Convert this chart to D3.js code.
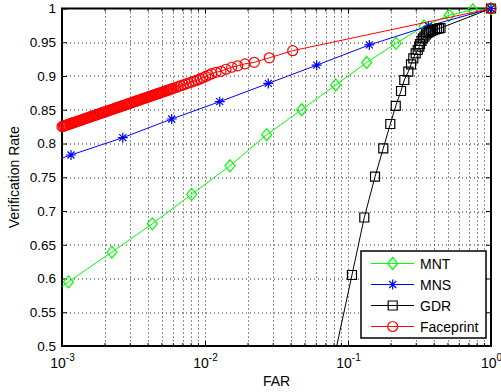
<!DOCTYPE html>
<html>
<head>
<meta charset="utf-8">
<script src="https://cdn.jsdelivr.net/npm/d3@7"></script>
<style>
  body { margin: 0; background: #fff; }
  svg text { font-family: "Liberation Sans", Arial, Helvetica, sans-serif; fill: #000; }
</style>
</head>
<body>
<div id="chart"></div>
<script>
// ROC style curves, FAR on a log axis against verification rate

// MNT (green diamonds) - first value sits left of the axis so the line runs in from the edge
var farMNT  = [0.00055, 0.00111, 0.00223, 0.00428, 0.00807, 0.01496, 0.0270, 0.0474, 0.0820, 0.135, 0.217, 0.340, 0.510, 0.745, 1];
var rateMNT = [0.551, 0.595, 0.639, 0.681, 0.7247, 0.767, 0.813, 0.850, 0.8867, 0.920, 0.9484, 0.974, 0.990, 0.998, 1];

// MNS (blue stars)
var farMNS  = [0.00051, 0.001156, 0.00266, 0.00585, 0.01268, 0.0277, 0.0604, 0.141, 0.365, 1];
var rateMNS = [0.757, 0.783, 0.8086, 0.8363, 0.862, 0.889, 0.916, 0.946, 0.974, 1];

// GDR (black squares) - first value is below 0.5, off the chart
var farGDR  = [0.0778, 0.1066, 0.1300, 0.1545, 0.1765, 0.1976, 0.2157, 0.2348, 0.2476, 0.2641, 0.2758, 0.2862,
	0.2974, 0.3072, 0.3152, 0.3188, 0.3266, 0.3345, 0.3428, 0.3511, 0.3597, 0.3685, 0.3806, 0.3930, 0.4059,
	0.4193, 0.4329, 0.4435, 1];
var rateGDR = [0.4704, 0.6052, 0.6904, 0.7508, 0.7929, 0.8289, 0.8556, 0.8778, 0.8941, 0.9064, 0.9173, 0.9262,
	0.9336, 0.9385, 0.9434, 0.9474, 0.9519, 0.9556, 0.9585, 0.9615, 0.9637, 0.9652, 0.9667, 0.9681, 0.9689,
	0.9696, 0.9704, 0.9711, 1];

// Faceprint (red circles) - very dense at low FAR
var farFP = [
	1.00e-3, 1.02e-3, 1.04e-3, 1.06e-3, 1.08e-3, 1.10e-3, 1.12e-3, 1.14e-3, 1.16e-3, 1.18e-3, 1.20e-3, 1.22e-3, 1.24e-3,
	1.27e-3, 1.30e-3, 1.33e-3, 1.36e-3, 1.39e-3, 1.42e-3, 1.45e-3, 1.48e-3, 1.51e-3, 1.54e-3, 1.57e-3, 1.60e-3, 1.63e-3, 1.66e-3,
	1.70e-3, 1.74e-3, 1.78e-3, 1.82e-3, 1.86e-3, 1.90e-3, 1.94e-3, 1.98e-3, 2.02e-3, 2.06e-3, 2.10e-3,
	2.15e-3, 2.20e-3, 2.25e-3, 2.30e-3, 2.35e-3, 2.40e-3, 2.45e-3, 2.50e-3, 2.55e-3, 2.60e-3,
	2.66e-3, 2.72e-3, 2.78e-3, 2.84e-3, 2.90e-3, 2.96e-3, 3.02e-3, 3.08e-3,
	3.15e-3, 3.22e-3, 3.29e-3, 3.36e-3, 3.43e-3, 3.50e-3,
	3.58e-3, 3.66e-3, 3.74e-3, 3.82e-3, 3.90e-3, 3.98e-3, 4.06e-3,
	4.15e-3, 4.24e-3, 4.33e-3, 4.42e-3,
	4.52e-3, 4.62e-3, 4.72e-3, 4.82e-3, 4.92e-3,
	5.03e-3, 5.14e-3, 5.25e-3, 5.37e-3, 5.49e-3, 5.61e-3, 5.74e-3, 5.87e-3, 6.00e-3,
	6.25e-3, 6.50e-3, 6.78e-3, 7.07e-3, 7.38e-3, 7.70e-3, 8.05e-3, 8.42e-3, 8.81e-3, 9.22e-3, 9.65e-3, 10.1e-3, 10.6e-3,
	0.01114, 0.01194, 0.01294, 0.01403, 0.01537, 0.01693, 0.01905, 0.02212, 0.02817, 0.04106, 1];
var rateFP = [
	0.8250, 0.8256, 0.8262, 0.8268, 0.8274, 0.8280, 0.8286, 0.8291, 0.8297, 0.8302, 0.8308, 0.8313, 0.8318,
	0.8326, 0.8333, 0.8340, 0.8347, 0.8354, 0.8361, 0.8368, 0.8374, 0.8380, 0.8387, 0.8393, 0.8399, 0.8405, 0.8410,
	0.8418, 0.8425, 0.8433, 0.8440, 0.8446, 0.8453, 0.8460, 0.8466, 0.8473, 0.8479, 0.8485,
	0.8492, 0.8500, 0.8507, 0.8514, 0.8521, 0.8527, 0.8534, 0.8540, 0.8546, 0.8553,
	0.8560, 0.8567, 0.8574, 0.8580, 0.8587, 0.8594, 0.8600, 0.8606,
	0.8613, 0.8620, 0.8627, 0.8634, 0.8640, 0.8647,
	0.8654, 0.8661, 0.8668, 0.8674, 0.8681, 0.8687, 0.8694,
	0.8701, 0.8707, 0.8714, 0.8720,
	0.8728, 0.8734, 0.8741, 0.8748, 0.8754,
	0.8761, 0.8768, 0.8775, 0.8782, 0.8789, 0.8796, 0.8803, 0.8810, 0.8817,
	0.8830, 0.8843, 0.8856, 0.8869, 0.8883, 0.8896, 0.8910, 0.8925, 0.8940, 0.8956, 0.8974, 0.8993, 0.9013,
	0.9034, 0.9055, 0.9070, 0.9100, 0.9130, 0.9150, 0.9180, 0.9203, 0.9270, 0.9375, 1];

var seriesNames = ["MNT", "MNS", "GDR", "Faceprint"];
var yTicks = [0.5, 0.55, 0.6, 0.65, 0.7, 0.75, 0.8, 0.85, 0.9, 0.95, 1];
var xTicks = [1e-3, 1e-2, 1e-1, 1];
var xTickExp = ["-3", "-2", "-1", "0"];

var series = [
	{name: seriesNames[0], far: farMNT, rate: rateMNT, color: "#00ff00", marker: "diamond"},
	{name: seriesNames[1], far: farMNS, rate: rateMNS, color: "#0000ff", marker: "star"},
	{name: seriesNames[2], far: farGDR, rate: rateGDR, color: "#000000", marker: "square"},
	{name: seriesNames[3], far: farFP,  rate: rateFP,  color: "#ff0000", marker: "circle"}
];

//Standard margin praxis
var margin = {top: 8.5, right: 10, bottom: 46, left: 62},
	width = 501 - margin.left - margin.right,
	height = 392 - margin.top - margin.bottom;

var svg = d3.select("#chart")
	.append("svg")
	.attr("width", 501)
	.attr("height", 392)
	.append("g")
	.attr("transform", "translate(" + margin.left + "," + margin.top + ")");

var x = d3.scaleLog().domain([1e-3, 1]).range([0, width]);
var y = d3.scaleLinear().domain([0.5, 1]).range([height, 0]);

// minor tick values 2..9 of every decade
var minorX = [];
for (var e = -3; e < 0; e++)
	for (var m = 2; m <= 9; m++) minorX.push(m * Math.pow(10, e));

//Dotted grid
var grid = svg.append("g").attr("class", "grid")
	.attr("stroke", "#222").attr("stroke-width", 1).attr("stroke-dasharray", "1,3");
grid.selectAll(".hgrid").data(yTicks.slice(1, -1)).enter().append("line")
	.attr("x1", 0).attr("x2", width)
	.attr("y1", function(d){ return Math.round(y(d)) + 0.5; })
	.attr("y2", function(d){ return Math.round(y(d)) + 0.5; });
grid.selectAll(".vgrid").data(minorX.concat(xTicks.slice(1, -1))).enter().append("line")
	.attr("y1", 0).attr("y2", height)
	.attr("x1", function(d){ return Math.round(x(d)) + 0.5; })
	.attr("x2", function(d){ return Math.round(x(d)) + 0.5; });

//Y axis with inward ticks
var yAxis = svg.append("g")
	.call(d3.axisLeft(y).tickValues(yTicks).tickSize(-5).tickPadding(6).tickFormat(function(d){ return String(d); }));
yAxis.select(".domain").remove();
yAxis.selectAll("text").style("font-size", "13.5px");

svg.append("g")
	.attr("transform", "translate(" + width + ",0)")
	.call(d3.axisRight(y).tickValues(yTicks).tickSize(-5).tickFormat(""))
	.select(".domain").remove();

//X axis, labels as 10 with superscript exponent
var xAxis = svg.append("g")
	.attr("transform", "translate(0," + height + ")")
	.call(d3.axisBottom(x).tickValues(xTicks).tickSize(-5).tickFormat(""));
xAxis.select(".domain").remove();
xAxis.selectAll(".tick text").remove();
xAxis.selectAll(".tick").append("text")
	.attr("y", 22)
	.attr("text-anchor", "middle")
	.style("font-size", "14px")
	.each(function(d, i){
		var t = d3.select(this);
		t.append("tspan").text("10");
		t.append("tspan").attr("dy", -7).style("font-size", "10px").text(xTickExp[i]);
	});
xAxis.selectAll(".minor").data(minorX).enter().append("line")
	.attr("stroke", "#000")
	.attr("x1", function(d){ return x(d); }).attr("x2", function(d){ return x(d); })
	.attr("y1", 0).attr("y2", -3);

var topAxis = svg.append("g")
	.call(d3.axisTop(x).tickValues(xTicks).tickSize(-5).tickFormat(""));
topAxis.select(".domain").remove();
topAxis.selectAll(".minor").data(minorX).enter().append("line")
	.attr("stroke", "#000")
	.attr("x1", function(d){ return x(d); }).attr("x2", function(d){ return x(d); })
	.attr("y1", 0).attr("y2", 3);

//Axis box
svg.append("rect")
	.attr("x", 0).attr("y", 0)
	.attr("width", width).attr("height", height)
	.attr("fill", "none").attr("stroke", "#000").attr("stroke-width", 2);

//Axis titles
svg.append("text")
	.attr("x", width / 2)
	.attr("y", height + 40)
	.attr("text-anchor", "middle")
	.style("font-size", "14px")
	.text("FAR");

svg.append("text")
	.attr("transform", "rotate(-90)")
	.attr("x", -height / 2)
	.attr("y", -43)
	.attr("text-anchor", "middle")
	.style("font-size", "14px")
	.text("Verification Rate");

//Marker shapes
function markerPath(type)
{
	if (type == "diamond") return "M0,-6L5,0L0,6L-5,0Z";
	if (type == "square") return d3.symbol().type(d3.symbolSquare).size(81)();
	if (type == "circle") return d3.symbol().type(d3.symbolCircle).size(Math.PI * 25)();
	// asterisk: plus and cross together
	return "M-5,0L5,0M0,-5L0,5M-3.5,-3.5L3.5,3.5M-3.5,3.5L3.5,-3.5";
}

svg.append("clipPath").attr("id", "plot-clip")
	.append("rect").attr("width", width).attr("height", height);

var line = d3.line()
	.x(function(d){ return x(d.far); })
	.y(function(d){ return y(d.rate); });

series.forEach(function(s)
{
	var pts = s.far.map(function(f, i){ return {far: f, rate: s.rate[i]}; });

	svg.append("path")
		.datum(pts)
		.attr("clip-path", "url(#plot-clip)")
		.attr("fill", "none")
		.attr("stroke", s.color)
		.attr("stroke-width", 1)
		.attr("d", line);

	// only markers whose point lies inside the axes
	svg.selectAll(null)
		.data(pts.filter(function(d){ return d.far >= 1e-3 && d.rate >= 0.5; }))
		.enter().append("path")
		.attr("transform", function(d){ return "translate(" + x(d.far) + "," + y(d.rate) + ")"; })
		.attr("d", markerPath(s.marker))
		.attr("fill", "none")
		.attr("stroke", s.color)
		.attr("stroke-width", 1.2);
});

//Legend
var legend = svg.append("g")
	.attr("transform", "translate(" + (361 - margin.left) + "," + (251 - margin.top) + ")");
legend.append("rect")
	.attr("width", 125).attr("height", 87)
	.attr("fill", "#fff").attr("stroke", "#000").attr("stroke-width", 1.5);

series.forEach(function(s, i)
{
	var ly = 12.5 + i * 21;
	legend.append("line")
		.attr("x1", 10).attr("x2", 53)
		.attr("y1", ly).attr("y2", ly)
		.attr("stroke", s.color).attr("stroke-width", 1);
	legend.append("path")
		.attr("transform", "translate(31.7," + ly + ")")
		.attr("d", markerPath(s.marker))
		.attr("fill", "none")
		.attr("stroke", s.color)
		.attr("stroke-width", 1.2);
	legend.append("text")
		.attr("x", 59)
		.attr("y", ly + 5)
		.style("font-size", "14px")
		.text(s.name);
});
</script>
</body>
</html>
